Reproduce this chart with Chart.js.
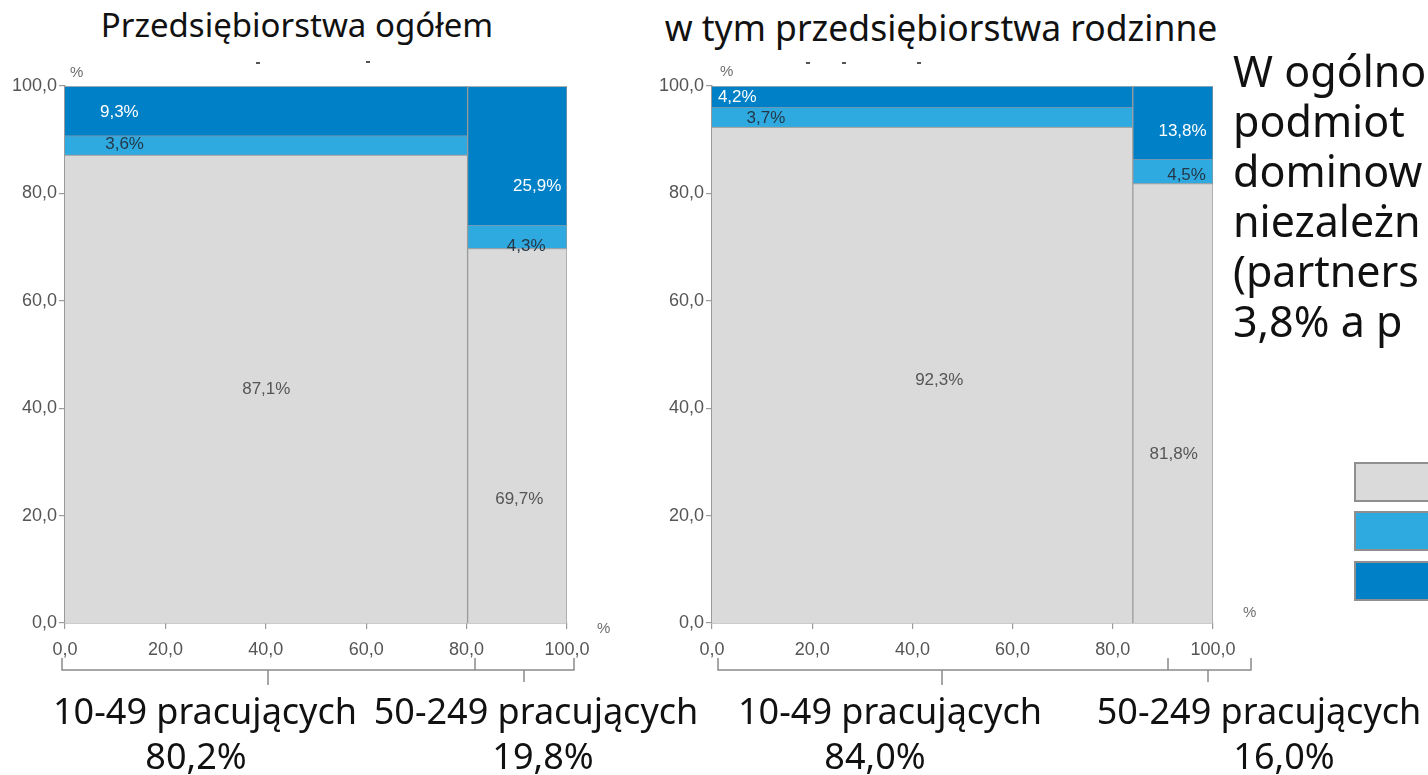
<!DOCTYPE html>
<html>
<head>
<meta charset="utf-8">
<script src="https://cdn.jsdelivr.net/npm/chart.js@4.4.1/dist/chart.umd.min.js"></script>
<style>
  html, body { margin: 0; padding: 0; width: 1428px; height: 775px; overflow: hidden; background: #fff; }
  body { position: relative; font-family: "Noto Sans", sans-serif; color: #111; }
  canvas { position: absolute; }
  .t { position: absolute; white-space: nowrap; }
  .title { transform: translateX(-50%); }
  .cat { font-size: 36px; line-height: 36px; transform: translateX(-50%); }
  .side { font-size: 43px; line-height: 50px; left: 1233px; top: 46px; }
  .pct { font-family: "Liberation Sans", Arial, sans-serif; font-size: 15px; color: #6e6e6e; }
  .dash { position: absolute; width: 4px; height: 2px; background: #555; }
  .lg { position: absolute; left: 1354px; width: 90px; height: 36px; border: 2px solid #8f8f8f; }
</style>
</head>
<body>
<div class="t title" style="left:297px;top:8px;font-size:33px;line-height:33px;">Przedsiębiorstwa ogółem</div>
<div class="t title" style="left:941px;top:10px;font-size:35.5px;line-height:35.5px;">w tym przedsiębiorstwa rodzinne</div>
<div class="dash" style="left:256px;top:62px;"></div>
<div class="dash" style="left:366px;top:61px;"></div>
<div class="dash" style="left:806px;top:62px;"></div>
<div class="dash" style="left:842px;top:62px;"></div>
<div class="dash" style="left:917px;top:62px;"></div>

<canvas id="c1" width="640" height="630" style="left:0px;top:50px;"></canvas>
<canvas id="c2" width="640" height="630" style="left:640px;top:50px;"></canvas>

<div class="t pct" style="left:70px;top:63px;">%</div>
<div class="t pct" style="left:720px;top:62px;">%</div>
<div class="t pct" style="left:597px;top:619px;">%</div>
<div class="t pct" style="left:1243px;top:603px;">%</div>

<svg style="position:absolute;left:0;top:0;" width="1428" height="775">
  <g fill="none" stroke="#8a8a8a" stroke-width="1.5">
    <path d="M62,658 V670 H574 V658 M475,658 V670 M268,670 V685 M524,670 V682"/>
    <path d="M718,658 V670 H1251 V658 M1168,658 V670 M942,670 V685 M1208,670 V682"/>
  </g>
</svg>

<div class="t cat" style="left:205px;top:693px;">10-49 pracujących</div>
<div class="t cat" style="left:196px;top:738px;">80,2%</div>
<div class="t cat" style="left:536px;top:693px;">50-249 pracujących</div>
<div class="t cat" style="left:543px;top:738px;">19,8%</div>
<div class="t cat" style="left:890px;top:693px;">10-49 pracujących</div>
<div class="t cat" style="left:875px;top:738px;">84,0%</div>
<div class="t cat" style="left:1259px;top:693px;">50-249 pracujących</div>
<div class="t cat" style="left:1284px;top:738px;">16,0%</div>

<div class="t side">W ogólno<br>podmiot<br>dominow<br>niezależn<br>(partners<br>3,8% a p</div>

<div class="lg" style="top:462px;background:#dadada;"></div>
<div class="lg" style="top:511px;background:#2eaae1;"></div>
<div class="lg" style="top:561px;background:#0080c6;"></div>

<script>
// ---- data ----
const categories = ['10-49 pracujących', '50-249 pracujących'];
const seriesNames = ['niezależne', 'partnerskie', 'powiązane'];
const axisTicks = [0, 20, 40, 60, 80, 100];

const widthsTotal = [80.2, 19.8];
const independentTotal = [87.1, 69.7];
const partnerTotal = [3.6, 4.3];
const linkedTotal = [9.3, 25.9];

const widthsFamily = [84.0, 16.0];
const independentFamily = [92.3, 81.8];
const partnerFamily = [3.7, 4.5];
const linkedFamily = [4.2, 13.8];

// ---- styles / layout ----
const seriesColors = ['#dadada', '#2eaae1', '#0080c6'];
const edgeColors = ['#9c9c9c', '#6f98b3', '#a9b6c0'];
const labelColors = ['#555555', '#243848', '#ffffff'];
const TICK_FONT = { family: '"Liberation Sans", Arial, sans-serif', size: 18 };
const LABEL_FONT = '17px "Liberation Sans", Arial, sans-serif';

// label anchor as fraction of column width / segment height: [column][series]
const layoutTotal = {
  fx: [[0.5, 0.148, 0.135], [0.52, 0.59, 0.70]],
  fy: [[0.5, 0.55, 0.47], [0.33, 0.1, 0.28]],
  padding: { left: 0, top: 36, right: 73, bottom: 17 }
};
const layoutFamily = {
  fx: [[0.54, 0.128, 0.06], [0.51, 0.67, 0.62]],
  fy: [[0.49, 0.45, 0.48], [0.385, 0.35, 0.38]],
  padding: { left: 7, top: 36, right: 67, bottom: 17 }
};

const fmt = v => v.toFixed(1).replace('.', ',');

const labelPlugin = {
  id: 'mekkoLabels',
  afterDatasetsDraw(chart) {
    const { ctx, scales: { x, y } } = chart;
    ctx.save();
    ctx.font = LABEL_FONT;
    ctx.textAlign = 'center';
    ctx.textBaseline = 'middle';
    chart.data.datasets.forEach(ds => {
      const m = ds.mekko;
      if (!m) return;
      const px = x.getPixelForValue(m.x0 + m.fx * (m.x1 - m.x0));
      const py = y.getPixelForValue(m.y0 + m.fy * (Math.min(m.y1, 100) - m.y0));
      ctx.fillStyle = m.color;
      ctx.fillText(m.text, px, py);
    });
    ctx.restore();
  }
};

function axisOpts(isX) {
  return {
    type: 'linear', min: 0, max: 100,
    afterBuildTicks: s => { s.ticks = axisTicks.map(v => ({ value: v })); },
    afterFit: s => { if (isX) s.height = 40; else s.width = 65; },
    ticks: { font: TICK_FONT, color: '#555555', padding: isX ? 10 : 2, callback: v => fmt(v), maxRotation: 0, autoSkip: false },
    grid: { drawOnChartArea: false, drawTicks: true, tickLength: 6, color: '#9a9a9a', lineWidth: 1.2 },
    border: { display: true, color: '#9a9a9a', width: 1.5 }
  };
}

function buildMekko(id, widths, series, layout) {
  const datasets = [];
  let x0 = 0;
  widths.forEach((w, c) => {
    const x1 = x0 + w;
    let base = 0;
    series.forEach((vals, s) => {
      const v = vals[c];
      const top = base + v;
      datasets.push({
        label: seriesNames[s] + ' – ' + categories[c],
        type: 'line',
        data: [{ x: x0, y: top }, { x: x1, y: top }],
        fill: { value: base },
        backgroundColor: seriesColors[s],
        borderColor: edgeColors[s],
        borderWidth: 1,
        pointRadius: 0,
        tension: 0,
        order: 2,
        mekko: { text: fmt(v) + '%', color: labelColors[s], fx: layout.fx[c][s], fy: layout.fy[c][s], x0, x1, y0: base, y1: top }
      });
      base = top;
    });
    x0 = x1;
  });
  // column outlines
  let edge = 0;
  widths.forEach(w => {
    edge += w;
    datasets.push({ type: 'line', data: [{ x: edge, y: 0 }, { x: edge, y: 100 }], borderColor: '#9a9a9a', borderWidth: 1.3, pointRadius: 0, fill: false, order: 0 });
  });
  datasets.push({ type: 'line', data: [{ x: 0, y: 100 }, { x: 100, y: 100 }], borderColor: '#b0b0b0', borderWidth: 1.3, pointRadius: 0, fill: false, order: 0 });

  return new Chart(document.getElementById(id), {
    type: 'line',
    data: { datasets },
    options: {
      responsive: false, animation: false, devicePixelRatio: 1,
      layout: { padding: layout.padding },
      plugins: { legend: { display: false }, tooltip: { enabled: false } },
      scales: { x: axisOpts(true), y: axisOpts(false) }
    },
    plugins: [labelPlugin]
  });
}

buildMekko('c1', widthsTotal, [independentTotal, partnerTotal, linkedTotal], layoutTotal);
buildMekko('c2', widthsFamily, [independentFamily, partnerFamily, linkedFamily], layoutFamily);
</script>
</body>
</html>
